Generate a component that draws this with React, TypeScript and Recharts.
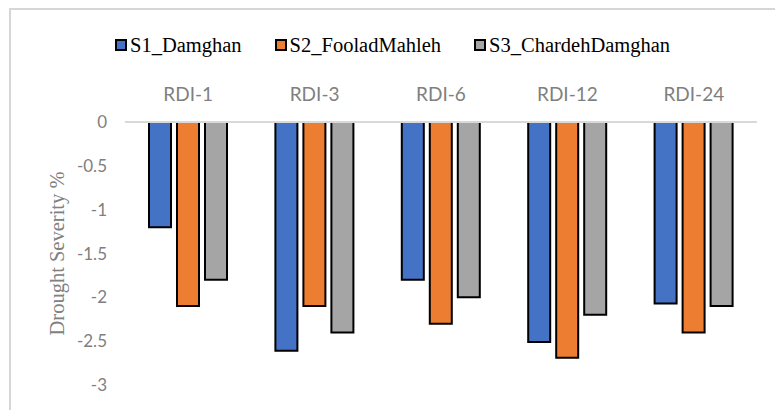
import { BarChart, Bar, XAxis, YAxis, Legend } from "recharts";

// valores
const categories = ["RDI-1", "RDI-3", "RDI-6", "RDI-12", "RDI-24"];
const s1Damghan = [-1.2, -2.61, -1.8, -2.51, -2.07];
const s2FooladMahleh = [-2.1, -2.1, -2.3, -2.69, -2.4];
const s3ChardehDamghan = [-1.8, -2.4, -2.0, -2.2, -2.1];
const yTicks = [0, -0.5, -1, -1.5, -2, -2.5, -3];

const seriesNames = ["S1_Damghan", "S2_FooladMahleh", "S3_ChardehDamghan"];
const seriesColors = ["#4472C4", "#ED7D31", "#A5A5A5"];

const data = categories.map((c, i) => ({
  name: c,
  s1: s1Damghan[i],
  s2: s2FooladMahleh[i],
  s3: s3ChardehDamghan[i],
}));

const serif = "Liberation Serif, Times New Roman, serif";

function LegendContent(props: any) {
  const items = props.payload || [];
  return (
    <div style={{ display: "flex", paddingLeft: 115, fontFamily: serif, fontSize: 20.5, color: "#000", lineHeight: "24px" }}>
      {items.map((it: any) => (
        <div key={it.value} style={{ display: "flex", alignItems: "center", marginRight: 33 }}>
          <span style={{ width: 8, height: 8, background: it.color, border: "2px solid #000", marginRight: 3, display: "inline-block" }} />
          <span style={{ fontFamily: serif }}>{it.value}</span>
        </div>
      ))}
    </div>
  );
}

function YTitle(props: any) {
  const vb = props.viewBox || { x: 0, y: 0, width: 0, height: 0 };
  const cx = vb.x + 17;
  const cy = vb.y + vb.height / 2;
  return (
    <text x={cx} y={cy} transform={`rotate(-90, ${cx}, ${cy})`} textAnchor="middle" dominantBaseline="central"
      fill="#808080" fontFamily={serif} fontSize={20.5}>
      Drought Severity %
    </text>
  );
}

export default function App() {
  return (
    <div style={{ position: "absolute", left: 0, top: 0, width: 775, height: 410, overflow: "hidden", background: "#fff" }}>
      <div style={{ position: "absolute", left: 9, top: 8, width: 1000, height: 1000, borderLeft: "2px solid #d6d6d6", borderTop: "2px solid #d6d6d6" }} />
      <div style={{ position: "absolute", left: 0, top: 0 }}>
        <BarChart width={775} height={410} data={data} margin={{ top: 92, right: 18, bottom: 25, left: 40 }}
          barSize={22} barGap={6}>
          <XAxis dataKey="name" orientation="top" height={30} axisLine={{ stroke: "#d9d9d9", strokeWidth: 2 }}
            tickLine={false} tickMargin={15} tick={{ fill: "#7f7f7f", fontFamily: "Lato", fontSize: 19 }} />
          <YAxis domain={[-3, 0]} ticks={yTicks} width={85} axisLine={false} tickLine={false} tickMargin={12}
            tick={{ fill: "#7f7f7f", fontFamily: "Lato", fontSize: 17 }} label={<YTitle />} />
          <Legend verticalAlign="middle" layout="horizontal" wrapperStyle={{ top: 33, left: 0, width: 775 }}
            content={<LegendContent />} />
          <Bar dataKey="s1" name={seriesNames[0]} fill={seriesColors[0]} stroke="#000" strokeWidth={2} isAnimationActive={false} />
          <Bar dataKey="s2" name={seriesNames[1]} fill={seriesColors[1]} stroke="#000" strokeWidth={2} isAnimationActive={false} />
          <Bar dataKey="s3" name={seriesNames[2]} fill={seriesColors[2]} stroke="#000" strokeWidth={2} isAnimationActive={false} />
        </BarChart>
      </div>
    </div>
  );
}
